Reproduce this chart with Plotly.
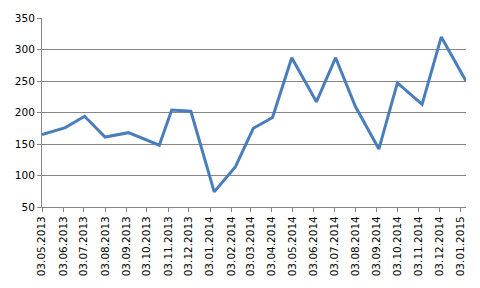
import plotly.graph_objects as go

dates = ["2013-05-03", "2013-06-06", "2013-07-04", "2013-08-03", "2013-09-06",
         "2013-10-21", "2013-11-08", "2013-12-06", "2014-01-09", "2014-02-09",
         "2014-03-07", "2014-04-04", "2014-05-02", "2014-06-07", "2014-07-05",
         "2014-08-03", "2014-09-06", "2014-10-03", "2014-11-08", "2014-12-06",
         "2015-01-11"]
values = [165, 176, 194, 161, 168, 148, 204, 202, 74, 114, 175, 192,
          287, 217, 287, 209, 142, 247, 213, 320, 250]

tick_dates = ["2013-05-03", "2013-06-03", "2013-07-03", "2013-08-03", "2013-09-03",
              "2013-10-03", "2013-11-03", "2013-12-03", "2014-01-03", "2014-02-03",
              "2014-03-03", "2014-04-03", "2014-05-03", "2014-06-03", "2014-07-03",
              "2014-08-03", "2014-09-03", "2014-10-03", "2014-11-03", "2014-12-03",
              "2015-01-03"]
tick_labels = ["03.05.2013", "03.06.2013", "03.07.2013", "03.08.2013", "03.09.2013",
               "03.10.2013", "03.11.2013", "03.12.2013", "03.01.2014", "03.02.2014",
               "03.03.2014", "03.04.2014", "03.05.2014", "03.06.2014", "03.07.2014",
               "03.08.2014", "03.09.2014", "03.10.2014", "03.11.2014", "03.12.2014",
               "03.01.2015"]
y_ticks = [50, 100, 150, 200, 250, 300, 350]

fig = go.Figure()
fig.add_trace(go.Scatter(x=dates, y=values, mode="lines",
                         line=dict(color="#4A7EBB", width=3), showlegend=False))

fig.update_layout(
    width=480, height=288,
    margin=dict(l=42, r=14, t=15, b=78),
    paper_bgcolor="white", plot_bgcolor="white",
    font=dict(family="DejaVu Sans", size=10.5, color="#000000"),
    xaxis=dict(type="date", range=["2013-05-03", "2015-01-11"],
               tickmode="array", tickvals=tick_dates, ticktext=tick_labels,
               tickangle=-90, showgrid=False, zeroline=False,
               showline=True, linecolor="#868686", linewidth=1,
               ticks="outside", ticklen=4, tickcolor="#868686"),
    yaxis=dict(range=[50, 350], tickmode="array", tickvals=y_ticks,
               showgrid=True, gridcolor="#868686", gridwidth=1, zeroline=False,
               showline=True, linecolor="#868686", linewidth=1,
               ticks="outside", ticklen=4, tickcolor="#868686"),
)

fig.write_html("out.html")
